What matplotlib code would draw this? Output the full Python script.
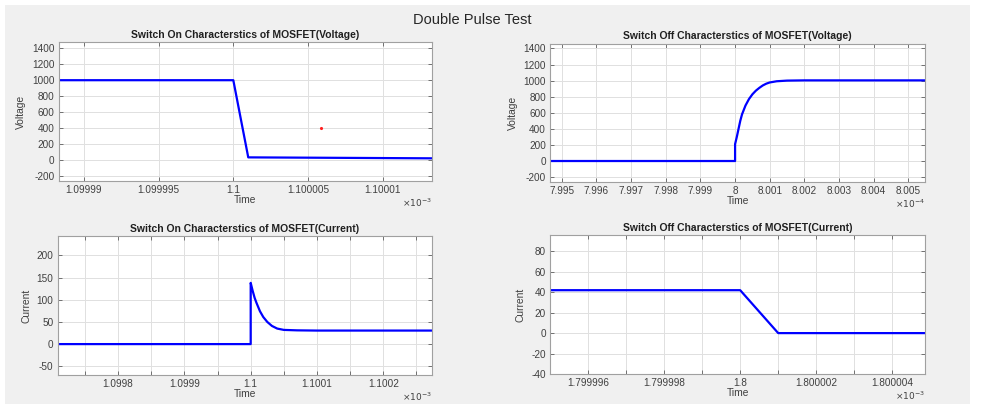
import matplotlib
matplotlib.use("Agg")
import matplotlib.pyplot as plt
from matplotlib.patches import Rectangle

plt.rcParams['font.family'] = ['Liberation Sans', 'DejaVu Sans']

# switch on, voltage (time in 1e-3 s)
on_v_t = [1.0999880, 1.1000000, 1.1000010, 1.1000133]
on_v = [1000, 1000, 30, 18]
marker_t = [1.1000059]
marker_v = [400]

# switch off, voltage (time in 1e-4 s)
off_v_t = [7.99466, 8.0, 8.0, 8.00005, 8.0001, 8.00015, 8.0002, 8.0003, 8.0004,
           8.0005, 8.0006, 8.0007, 8.0008, 8.0009, 8.001, 8.0012, 8.0015, 8.002, 8.00548]
off_v = [0, 0, 210, 300, 400, 500, 580, 690, 770,
         830, 875, 910, 940, 962, 977, 992, 1000, 1003, 1003]

# switch on, current (time in 1e-3 s)
on_i_t = [1.099709, 1.1, 1.1, 1.100003, 1.100006, 1.100009, 1.100014, 1.100019, 1.100025,
          1.100032, 1.10004, 1.10005, 1.10007, 1.1001, 1.100273]
on_i = [0, 0, 138, 120, 104, 92, 74, 61, 50, 41, 35, 32, 31, 30.5, 30.5]

# switch off, current (time in 1e-3 s)
off_i_t = [1.799995, 1.8, 1.800001, 1.8000049]
off_i = [42, 42, 0, 0]

tl_ticks = [1.09999, 1.099995, 1.1, 1.100005, 1.10001]
tl_labels = ['1.09999', '1.099995', '1.1', '1.100005', '1.10001']
tr_ticks = [7.995, 7.996, 7.997, 7.998, 7.999, 8.0, 8.001, 8.002, 8.003, 8.004, 8.005]
tr_labels = ['7.995', '7.996', '7.997', '7.998', '7.999', '8', '8.001', '8.002', '8.003', '8.004', '8.005']
bl_ticks = [1.09975, 1.0998, 1.09985, 1.0999, 1.09995, 1.1, 1.10005, 1.1001, 1.10015, 1.1002, 1.10025]
bl_labels = ['', '1.0998', '', '1.0999', '', '1.1', '', '1.1001', '', '1.1002', '']
br_ticks = [1.799995, 1.799996, 1.799997, 1.799998, 1.799999, 1.8, 1.800001, 1.800002, 1.800003, 1.800004]
br_labels = ['', '1.799996', '', '1.799998', '', '1.8', '', '1.800002', '', '1.800004']
v_yticks = [-200, 0, 200, 400, 600, 800, 1000, 1200, 1400]
on_i_yticks = [-50, 0, 50, 100, 150, 200]
off_i_yticks = [-40, -20, 0, 20, 40, 60, 80]

fig = plt.figure(figsize=(9.84, 4.04), dpi=100, facecolor='white')
fig.patches.append(Rectangle((5 / 984, 0), 965 / 984, 399 / 404, transform=fig.transFigure,
                             facecolor='#f0f0f0', edgecolor='none', zorder=-10))
fig.text(472 / 984, 0.951, 'Double Pulse Test', ha='center', va='center', fontsize=10.5, color='#262626')


def style(ax, title, ylabel, xticks, xlabels, yticks, xlim, ylim, expo):
    ax.set_facecolor('white')
    ax.set_xlim(xlim)
    ax.set_ylim(ylim)
    ax.set_xticks(xticks)
    ax.set_xticklabels(xlabels)
    ax.set_yticks(yticks)
    ax.set_yticklabels([str(v) for v in yticks])
    ax.grid(True, color='#e0e0e0', linewidth=0.7)
    ax.set_axisbelow(True)
    for s in ax.spines.values():
        s.set_color('#a0a0a0')
        s.set_linewidth(0.8)
    ax.tick_params(direction='in', length=3, width=0.7, color='#707070', labelsize=7.2,
                   labelcolor='#404040', top=True, right=True, pad=3)
    ax.set_title(title, fontsize=7.5, fontweight='bold', color='#202020', pad=3)
    ax.set_xlabel('Time', fontsize=7.4, color='#404040', labelpad=0)
    ax.set_ylabel(ylabel, fontsize=7.4, color='#404040', labelpad=4)
    ax.text(1.0, -0.16, r'$\times10^{%d}$' % expo, transform=ax.transAxes, ha='right',
            va='center', fontsize=6.5, color='#404040')


ax1 = fig.add_axes([0.0595, 0.552, 0.3795, 0.343])
ax1.plot(on_v_t, on_v, color='#0000ff', linewidth=1.6)
ax1.plot(marker_t, marker_v, '.', color='#ff2020', markersize=2.5)
style(ax1, 'Switch On Characterstics of MOSFET(Voltage)', 'Voltage', tl_ticks, tl_labels,
      v_yticks, (1.0999883, 1.1000133), (-267, 1475), -3)

ax2 = fig.add_axes([0.559, 0.5507, 0.381, 0.3413])
ax2.plot(off_v_t, off_v, color='#0000ff', linewidth=1.6)
style(ax2, 'Switch Off Characterstics of MOSFET(Voltage)', 'Voltage', tr_ticks, tr_labels,
      v_yticks, (7.99466, 8.00548), (-255, 1460), -4)

ax3 = fig.add_axes([0.0587, 0.0725, 0.3800, 0.3426])
ax3.plot(on_i_t, on_i, color='#0000ff', linewidth=1.6)
style(ax3, 'Switch On Characterstics of MOSFET(Current)', 'Current', bl_ticks, bl_labels,
      on_i_yticks, (1.099709, 1.100273), (-69, 243), -3)

ax4 = fig.add_axes([0.559, 0.0743, 0.381, 0.344])
ax4.plot(off_i_t, off_i, color='#0000ff', linewidth=1.6)
style(ax4, 'Switch Off Characterstics of MOSFET(Current)', 'Current', br_ticks, br_labels,
      off_i_yticks, (1.79999501, 1.80000486), (-40, 96), -3)

fig.savefig('out.png', dpi=100, facecolor=fig.get_facecolor())
